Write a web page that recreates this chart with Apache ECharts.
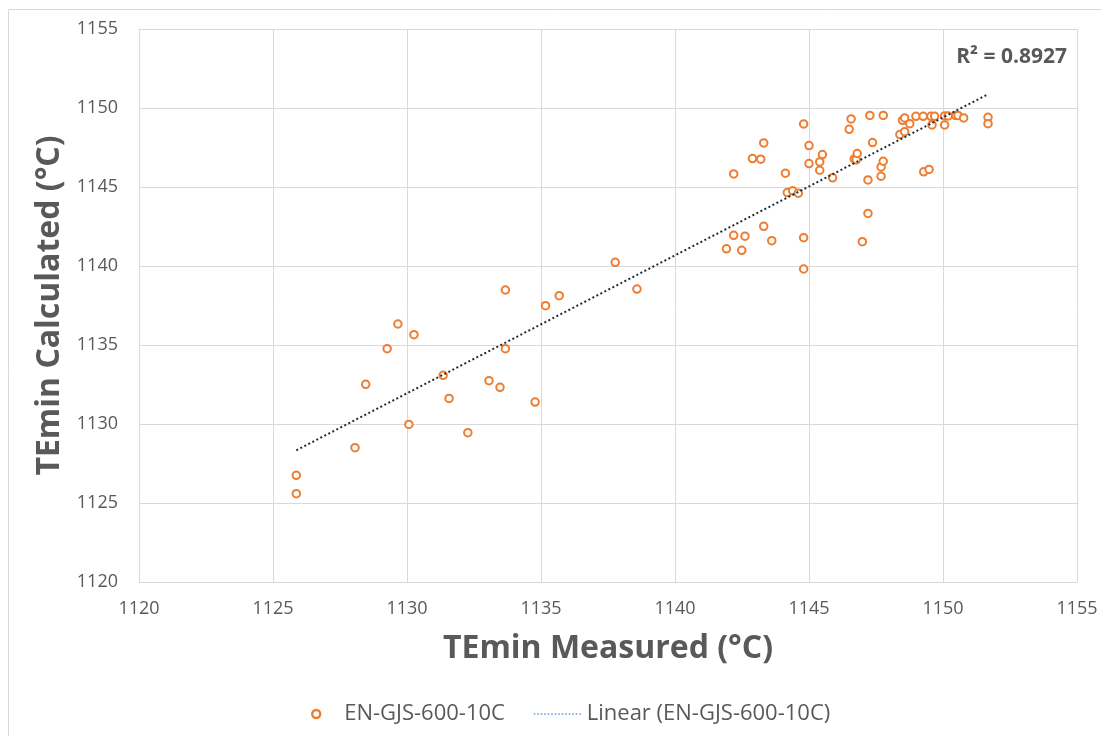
<!DOCTYPE html>
<html>
<head>
<meta charset="utf-8">
<title>TEmin Measured vs Calculated</title>
<script src="https://cdn.jsdelivr.net/npm/echarts@6/dist/echarts.min.js"></script>
<style>
  html, body { margin: 0; padding: 0; background: #ffffff; }
  #chart { width: 1101px; height: 736px; }
</style>
</head>
<body>
<div id="chart"></div>
<script>
// Measured TEmin (°C) and the matching calculated TEmin (°C), sample by sample
const measured = [
  1125.87, 1125.87, 1128.06, 1128.46, 1129.26, 1129.66, 1130.07, 1130.26, 1131.35, 1131.57,
  1132.27, 1133.06, 1133.47, 1133.67, 1133.67, 1134.78, 1135.17, 1135.68, 1137.77, 1138.58,
  1141.92, 1142.19, 1142.19, 1142.49, 1142.61, 1142.89, 1143.20, 1143.31, 1143.31, 1143.61,
  1144.12, 1144.19, 1144.39, 1144.60, 1144.80, 1144.80, 1144.80, 1145.00, 1145.00, 1145.50,
  1145.40, 1145.40, 1145.88, 1146.57, 1146.50, 1146.69, 1146.76, 1146.80, 1146.99, 1147.20,
  1147.20, 1147.27, 1147.37, 1147.69, 1147.69, 1147.77, 1147.77, 1148.39, 1148.49, 1148.57,
  1148.57, 1148.76, 1148.99, 1149.26, 1149.28, 1149.48, 1149.55, 1149.59, 1149.69, 1150.06,
  1150.06, 1150.19, 1150.47, 1150.56, 1150.77, 1151.68, 1151.68
];
const calculated = [
  1126.75, 1125.59, 1128.50, 1132.51, 1134.77, 1136.33, 1129.97, 1135.65, 1133.08, 1131.62,
  1129.45, 1132.74, 1132.32, 1138.48, 1134.77, 1131.39, 1137.49, 1138.12, 1140.23, 1138.54,
  1141.09, 1141.94, 1145.83, 1140.99, 1141.89, 1146.80, 1146.76, 1147.79, 1142.51, 1141.60,
  1145.87, 1144.65, 1144.76, 1144.61, 1148.99, 1141.79, 1139.81, 1147.62, 1146.48, 1147.05,
  1146.59, 1146.06, 1145.58, 1149.31, 1148.65, 1146.78, 1146.72, 1147.12, 1141.54, 1145.45,
  1143.33, 1149.53, 1147.81, 1146.27, 1145.68, 1149.53, 1146.63, 1148.32, 1149.22, 1149.37,
  1148.50, 1149.01, 1149.47, 1149.47, 1145.96, 1146.11, 1149.47, 1148.93, 1149.47, 1149.50,
  1148.93, 1149.50, 1149.53, 1149.53, 1149.37, 1149.41, 1149.01
];

const seriesName = 'EN-GJS-600-10C';
const trendName = 'Linear (EN-GJS-600-10C)';
const rSquaredText = 'R\u00B2 = 0.8927';
const xTitle = 'TEmin Measured (\u00B0C)';
const yTitle = 'TEmin Calculated (\u00B0C)';
const axisMin = 1120;
const axisMax = 1155;
const axisStep = 5;

// Least-squares linear trend over the samples, spanning the measured range
function linearTrend(xs, ys) {
  const n = xs.length;
  let sx = 0, sy = 0, sxx = 0, sxy = 0;
  for (let i = 0; i < n; i++) {
    sx += xs[i]; sy += ys[i]; sxx += xs[i] * xs[i]; sxy += xs[i] * ys[i];
  }
  const slope = (n * sxy - sx * sy) / (n * sxx - sx * sx);
  const intercept = (sy - slope * sx) / n;
  const x0 = Math.min.apply(null, xs);
  const x1 = Math.max.apply(null, xs);
  return [[x0, intercept + slope * x0], [x1, intercept + slope * x1]];
}

const points = measured.map((m, i) => [m, calculated[i]]);
const trend = linearTrend(measured, calculated);

const FONT = '"Open Sans", "Noto Sans", sans-serif';
const TEXT = '#595959';
const GRID = '#d9d9d9';
const ORANGE = '#ED7D31';
const plain = (v) => String(v);

const chart = echarts.init(document.getElementById('chart'), null, { renderer: 'canvas' });

chart.setOption({
  backgroundColor: '#ffffff',
  animation: false,
  textStyle: { fontFamily: FONT, color: TEXT },
  graphic: [{
    type: 'rect',
    left: 6, top: 7,
    shape: { width: 1200, height: 800 },
    style: { fill: 'none', stroke: GRID, lineWidth: 1 },
    silent: true,
    z: -10
  }],
  title: {
    text: rSquaredText,
    right: 34,
    top: 47,
    padding: 0,
    textStyle: { fontFamily: FONT, fontSize: 21, fontWeight: 'bold', color: TEXT }
  },
  grid: { left: 139, right: 24, top: 29, bottom: 154, containLabel: false },
  xAxis: {
    type: 'value',
    min: axisMin, max: axisMax, interval: axisStep,
    name: xTitle,
    nameLocation: 'middle',
    nameGap: 51,
    nameTextStyle: { fontFamily: FONT, fontSize: 32, fontWeight: 'bold', color: TEXT },
    axisLine: { show: true, lineStyle: { color: GRID, width: 1 } },
    axisTick: { show: false },
    axisLabel: { color: TEXT, fontFamily: FONT, fontSize: 18, margin: 18, formatter: plain },
    splitLine: { show: true, lineStyle: { color: GRID, width: 1 } }
  },
  yAxis: {
    type: 'value',
    min: axisMin, max: axisMax, interval: axisStep,
    name: yTitle,
    nameLocation: 'middle',
    nameGap: 70,
    nameTextStyle: { fontFamily: FONT, fontSize: 32, fontWeight: 'bold', color: TEXT },
    axisLine: { show: true, lineStyle: { color: GRID, width: 1 } },
    axisTick: { show: false },
    axisLabel: { color: TEXT, fontFamily: FONT, fontSize: 18, margin: 21, formatter: plain },
    splitLine: { show: true, lineStyle: { color: GRID, width: 1 } }
  },
  legend: [{
    data: [{
      name: seriesName,
      icon: 'circle',
      itemStyle: { color: '#ffffff', borderColor: ORANGE, borderWidth: 2.4 }
    }],
    left: 306,
    top: 698,
    itemWidth: 46,
    itemHeight: 8,
    selectedMode: false,
    textStyle: { fontFamily: FONT, fontSize: 22, color: TEXT }
  }, {
    data: [{
      name: trendName,
      itemStyle: { color: 'rgba(0,0,0,0)', borderWidth: 0, opacity: 0 },
      lineStyle: { color: '#5B9BD5', width: 1.5, type: [1.5, 2] }
    }],
    left: 528,
    top: 698,
    itemWidth: 48,
    itemHeight: 8,
    selectedMode: false,
    textStyle: { fontFamily: FONT, fontSize: 22, color: TEXT }
  }],
  series: [{
    name: seriesName,
    type: 'scatter',
    data: points,
    symbol: 'emptyCircle',
    symbolSize: 7.5,
    itemStyle: { color: ORANGE, borderColor: ORANGE, borderWidth: 2.6, opacity: 1 },
    z: 3
  }, {
    name: trendName,
    type: 'line',
    data: trend,
    showSymbol: false,
    symbol: 'none',
    silent: true,
    lineStyle: { color: '#1f2d3a', width: 2, type: [2, 2.5] },
    z: 4
  }]
});
</script>
</body>
</html>
